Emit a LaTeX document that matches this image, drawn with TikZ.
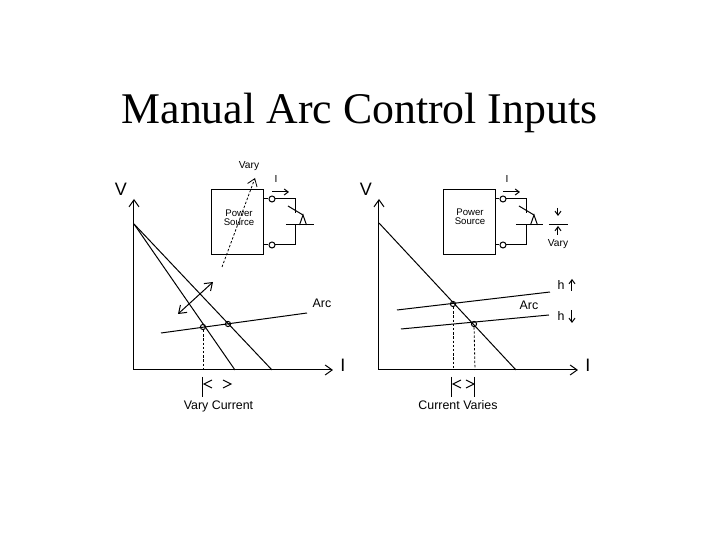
\documentclass[tikz,border=0pt]{standalone}
\usepackage{fontspec}
\setmainfont{Liberation Serif}
\setsansfont{Liberation Sans}
\usetikzlibrary{arrows.meta}
\tikzset{
  lbl/.style={font=\sffamily\fontsize{5.1}{5}\selectfont,inner sep=0pt,align=center},
  biglbl/.style={font=\sffamily\fontsize{6.2}{7}\selectfont,inner sep=0pt,align=center},
  srclbl/.style={font=\sffamily\fontsize{4.8}{4.6}\selectfont,inner sep=0pt,align=center},
  axlbl/.style={font=\sffamily\fontsize{9}{10}\selectfont,inner sep=0pt},
  srcbox/.style={draw,minimum width=26pt,minimum height=32.5pt,inner sep=0pt},
  term/.style={circle,draw,fill=white,minimum size=3pt,inner sep=0pt},
  opnode/.style={circle,draw,fill=none,minimum size=2.6pt,inner sep=0pt},
  dots/.style={line width=.4pt,dash pattern=on 1.2pt off .9pt},
  barb/.style={-{Straight Barb[length=3.5pt,width=5pt]}},
  smallbarb/.style={-{Straight Barb[length=2pt,width=3pt]}}
}
\begin{document}
\begin{tikzpicture}[x=.5pt,y=-.5pt,line width=.5pt]
\useasboundingbox (0,0) rectangle (720,540);
\node[font=\fontsize{21.9}{24}\selectfont,inner sep=0pt] (title) at (359.5,113) {Manual Arc Control Inputs};
% left graph
\coordinate (o1) at (134,370);
\coordinate (v1) at (134,199);
\coordinate (i1) at (333,370);
\coordinate (s1) at (134,224);
\coordinate (e1a) at (235,370);
\coordinate (e1b) at (272,370);
\coordinate (a1a) at (161,333);
\coordinate (a1b) at (307,313);
\draw[barb] (o1)--(v1);
\draw[barb] (o1)--(i1);
\draw (s1)--(e1a);
\draw (s1)--(e1b);
\draw (a1a)--(a1b);
\node[opnode] (p1) at (203,327) {};
\node[opnode] (p2) at (228,324) {};
\coordinate (f1) at (203,370);
\draw[dots] (p1)--(f1);
\coordinate (t1a) at (203,377);
\coordinate (t1b) at (203,397);
\draw (t1a)--(t1b);
\draw (212,380)--(204,384)--(212,388);
\draw (223,380)--(231,384)--(223,388);
\coordinate (g1a) at (178,314);
\coordinate (g1b) at (213,282);
\draw[{Straight Barb[length=3.5pt,width=5pt]}-{Straight Barb[length=3.5pt,width=5pt]}] (g1a)--(g1b);
\node[axlbl] (lv1) at (121,189) {V};
\node[axlbl] (li1) at (343,365) {I};
\node[biglbl] (larc1) at (322,303) {Arc};
\node[biglbl] (lc1) at (218.5,406.5) {Vary Current};
% left source
\node[srcbox] (src1) at (238,222.5) {};
\node[srclbl] (ps1) at (239,217.5) {Power\\Source};
\node[term] (ta1) at (272,199) {};
\node[term] (tb1) at (272,245) {};
\coordinate (c1a) at (296,199);
\coordinate (c1b) at (296,245);
\coordinate (w1) at (296,225);
\draw (src1.east|-ta1)--(ta1)--(c1a)--(296,213);
\draw (src1.east|-tb1)--(tb1)--(c1b)--(w1);
\draw (286,225)--(314,225);
\draw (288,206)--(303,215);
\draw (299.5,225)--(303,215)--(306.5,225);
\draw[smallbarb] (272,192)--(289,192);
\node[lbl] (lci1) at (276,179) {I};
\node[lbl] (lvy1) at (249,166.5) {Vary};
\coordinate (d1a) at (222,267);
\coordinate (d1b) at (255,178);
\draw[dots,barb] (d1a)--(d1b);
% right graph
\coordinate (o2) at (379,370);
\coordinate (v2) at (379,199);
\coordinate (i2) at (578,370);
\coordinate (s2) at (379,223);
\coordinate (e2) at (516,370);
\coordinate (a2a) at (397,310);
\coordinate (a2b) at (550,292);
\coordinate (a2c) at (401,329);
\coordinate (a2d) at (549,315);
\draw[barb] (o2)--(v2);
\draw[barb] (o2)--(i2);
\draw (s2)--(e2);
\draw (a2a)--(a2b);
\draw (a2c)--(a2d);
\node[opnode] (p3) at (453,304) {};
\node[opnode] (p4) at (474,324) {};
\coordinate (f3) at (453,370);
\coordinate (f4) at (475,370);
\draw[dots] (p3)--(f3);
\draw[dots] (p4)--(f4);
\draw (452,377)--(452,397);
\draw (475,377)--(475,397);
\draw (461,380)--(453,384)--(461,388);
\draw (466,380)--(474,384)--(466,388);
\node[axlbl] (lv2) at (366,189) {V};
\node[axlbl] (li2) at (588,365) {I};
\node[biglbl] (larc2) at (529,305) {Arc};
\node[biglbl] (lc2) at (458,405) {Current Varies};
\node[biglbl] (lh1) at (561,285) {h};
\node[biglbl] (lh2) at (561,316) {h};
\draw[smallbarb] (572,291)--(572,279);
\draw[smallbarb] (572,310)--(572,323);
% right source
\node[srcbox] (src2) at (469.5,222.5) {};
\node[srclbl] (ps2) at (470,217) {Power\\Source};
\node[term] (ta2) at (503,199) {};
\node[term] (tb2) at (503,245) {};
\coordinate (c2a) at (527,199);
\coordinate (c2b) at (527,245);
\coordinate (w2) at (527,225);
\draw (src2.east|-ta2)--(ta2)--(c2a)--(527,213);
\draw (src2.east|-tb2)--(tb2)--(c2b)--(w2);
\draw (516,225)--(543,225);
\draw (549,225)--(568,225);
\draw (519,206)--(534,215);
\draw (530.5,225)--(534,215)--(537.5,225);
\draw[smallbarb] (503,192)--(520,192);
\node[lbl] (lci2) at (507,179) {I};
\draw[smallbarb] (558,208)--(558,216);
\draw[smallbarb] (558,235)--(558,226);
\node[lbl] (lvy2) at (558,244.5) {Vary};
\end{tikzpicture}
\end{document}
